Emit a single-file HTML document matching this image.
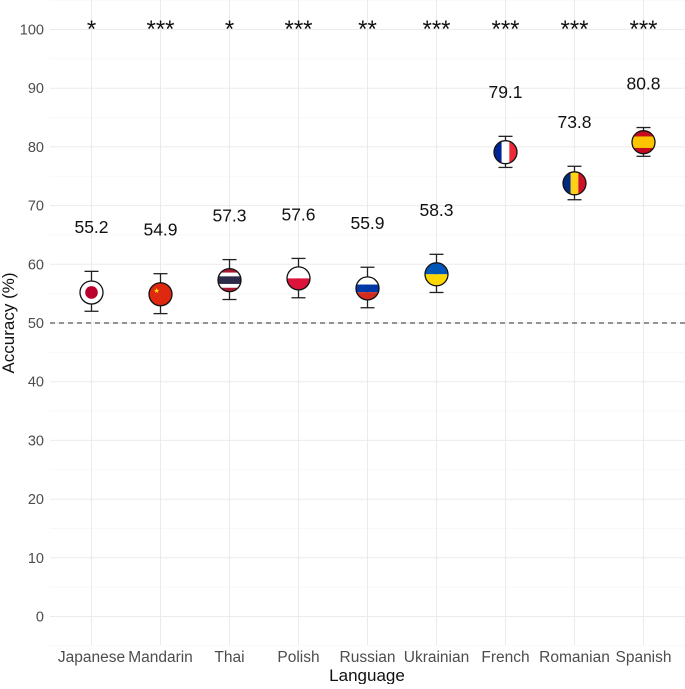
<!DOCTYPE html>
<html><head><meta charset="utf-8"><style>
body{margin:0;background:#fff}
text{font-family:"Liberation Sans",sans-serif}
</style></head><body>
<svg id="chart" width="685" height="684" viewBox="0 0 685 684"></svg>
<script>
const languages=["Japanese","Mandarin","Thai","Polish","Russian","Ukrainian","French","Romanian","Spanish"];
const accuracy=[55.2,54.9,57.3,57.6,55.9,58.3,79.1,73.8,80.8];
const ciLow=[52.0,51.6,54.0,54.3,52.6,55.2,76.5,71.0,78.4];
const ciHigh=[58.8,58.4,60.8,61.0,59.5,61.7,81.8,76.7,83.3];
const stars=["*","***","*","***","**","***","***","***","***"];
const yTicks=[0,10,20,30,40,50,60,70,80,90,100];
const chance=50;

const NS="http://www.w3.org/2000/svg";
const svg=document.getElementById('chart');
const X0=50,X1=685;
function xs(i){return 91.5+i*69;}
function ys(v){return 616.5-v*5.87;}
function mk(tag,attrs,parent){const e=document.createElementNS(NS,tag);for(const k in attrs)e.setAttribute(k,attrs[k]);(parent||svg).appendChild(e);return e;}

const grid=mk('g',{});


for(let v=-5;v<=105;v+=5){const y=ys(v);if(y<0||y>646)continue;
 mk('line',{x1:X0,x2:X1,y1:y,y2:y,stroke:v%10===0?'#ebebeb':'#f5f5f5','stroke-width':v%10===0?1:0.6},grid);}
languages.forEach((l,i)=>{mk('line',{x1:xs(i),x2:xs(i),y1:0,y2:645,stroke:'#ebebeb','stroke-width':1},grid);});

yTicks.forEach(v=>{const t=mk('text',{x:44,y:ys(v)+5,'text-anchor':'end','font-size':14.5,fill:'#4d4d4d'});t.textContent=v;
 
 });

const dl=mk('line',{x1:X0,x2:X1,y1:ys(chance),y2:ys(chance),stroke:'#555','stroke-width':1.3,'stroke-dasharray':'5,4'});



const flags={
Japanese:(g,r)=>{mk('circle',{r:r,fill:'#fff'},g);mk('circle',{r:r*0.55,fill:'#bc002d'},g);},
Mandarin:(g,r)=>{mk('circle',{r:r,fill:'#de2910'},g);mk('text',{x:-7,y:-1,'font-size':7,fill:'#ffde00'},g).textContent='★';},
Thai:(g,r)=>{mk('rect',{x:-r,y:-r,width:2*r,height:2*r,fill:'#a51931'},g);mk('rect',{x:-r,y:-r*0.66,width:2*r,height:r*1.32,fill:'#fff'},g);mk('rect',{x:-r,y:-r*0.33,width:2*r,height:r*0.66,fill:'#2d2a4a'},g);},
Polish:(g,r)=>{mk('rect',{x:-r,y:-r,width:2*r,height:r,fill:'#fff'},g);mk('rect',{x:-r,y:0,width:2*r,height:r,fill:'#dc143c'},g);},
Russian:(g,r)=>{mk('rect',{x:-r,y:-r,width:2*r,height:2*r/3,fill:'#fff'},g);mk('rect',{x:-r,y:-r/3,width:2*r,height:2*r/3,fill:'#0039a6'},g);mk('rect',{x:-r,y:r/3,width:2*r,height:2*r/3,fill:'#d52b1e'},g);},
Ukrainian:(g,r)=>{mk('rect',{x:-r,y:-r,width:2*r,height:r,fill:'#0057b7'},g);mk('rect',{x:-r,y:0,width:2*r,height:r,fill:'#ffd700'},g);},
French:(g,r)=>{mk('rect',{x:-r,y:-r,width:2*r/3,height:2*r,fill:'#002395'},g);mk('rect',{x:-r/3,y:-r,width:2*r/3,height:2*r,fill:'#fff'},g);mk('rect',{x:r/3,y:-r,width:2*r/3,height:2*r,fill:'#ed2939'},g);},
Romanian:(g,r)=>{mk('rect',{x:-r,y:-r,width:2*r/3,height:2*r,fill:'#002b7f'},g);mk('rect',{x:-r/3,y:-r,width:2*r/3,height:2*r,fill:'#fcd116'},g);mk('rect',{x:r/3,y:-r,width:2*r/3,height:2*r,fill:'#ce1126'},g);},
Spanish:(g,r)=>{mk('rect',{x:-r,y:-r,width:2*r,height:2*r,fill:'#c60b1e'},g);mk('rect',{x:-r,y:-r/2,width:2*r,height:r,fill:'#ffc400'},g);}
};
const defs=mk('defs',{});
mk('circle',{id:'cc',r:11.5},mk('clipPath',{id:'clip'},defs));

languages.forEach((l,i)=>{
 const x=xs(i);
 const eb=mk('g',{stroke:'#222','stroke-width':1.3});
 
 
 mk('line',{x1:x,x2:x,y1:ys(ciLow[i]),y2:ys(ciHigh[i])},eb);
 mk('line',{x1:x-7,x2:x+7,y1:ys(ciLow[i]),y2:ys(ciLow[i])},eb);
 mk('line',{x1:x-7,x2:x+7,y1:ys(ciHigh[i]),y2:ys(ciHigh[i])},eb);
 const g=mk('g',{transform:`translate(${x},${ys(accuracy[i])})`});
 
 
 const inner=mk('g',{'clip-path':'url(#clip)'},g);
 flags[l](inner,11.5);
 mk('circle',{r:11.5,fill:'none',stroke:'#111','stroke-width':1.3},g);
 const vt=mk('text',{x:x,y:ys(ciHigh[i]+6.5),'text-anchor':'middle','font-size':17.5,fill:'#111'});
 vt.textContent=accuracy[i].toFixed(1);
 
 
 const st=mk('text',{x:x,y:37,'text-anchor':'middle','font-size':24,fill:'#111'});
 st.textContent=stars[i];
 
 
 const xt=mk('text',{x:x,y:662,'text-anchor':'middle','font-size':15.5,fill:'#4d4d4d'});
 xt.textContent=l;
 
 
});
const xa=mk('text',{x:367,y:681,'text-anchor':'middle','font-size':17,fill:'#111'});
xa.textContent='Language';


const ya=mk('text',{x:0,y:0,'text-anchor':'middle','font-size':17,fill:'#111',transform:'translate(14,323) rotate(-90)'});
ya.textContent='Accuracy (%)';


</script>
</body></html>
